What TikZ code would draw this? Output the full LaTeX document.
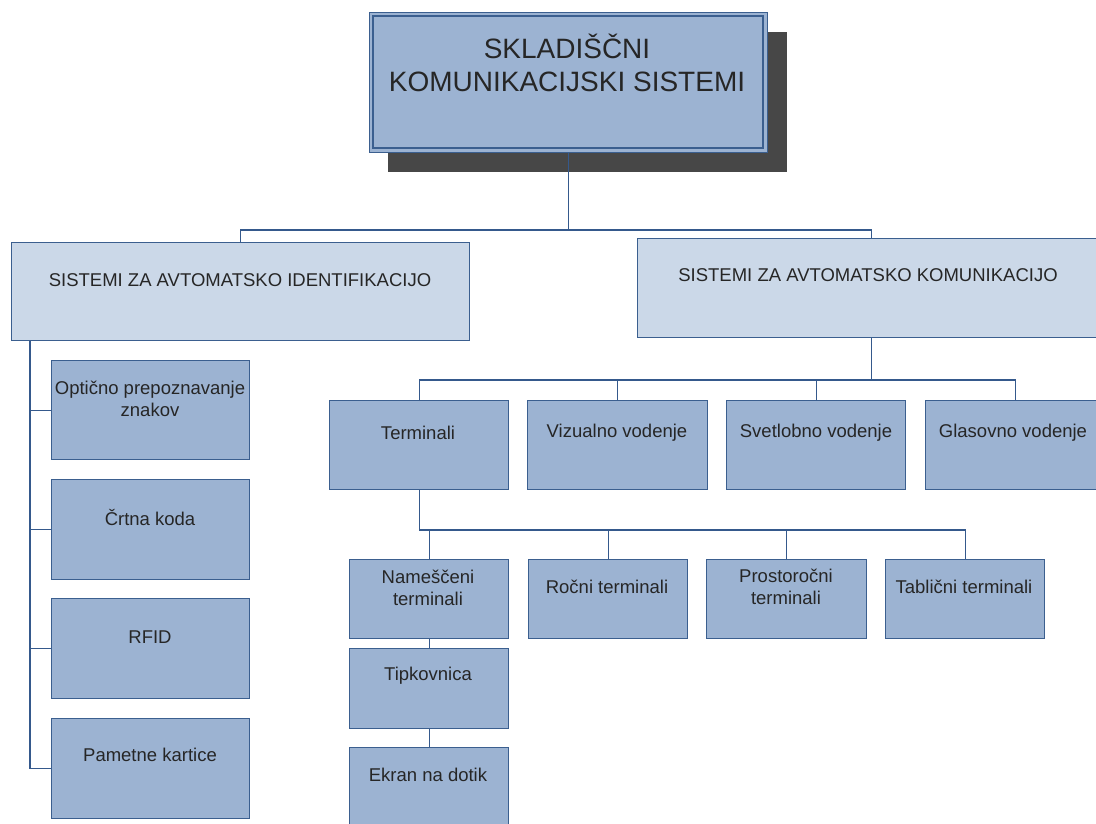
\documentclass[tikz,border=0pt]{standalone}
\usepackage{fontspec}
\setmainfont{Liberation Sans}
\usetikzlibrary{calc}
\definecolor{boxfill}{HTML}{9CB3D2}
\definecolor{lightfill}{HTML}{CBD8E8}
\definecolor{boxline}{HTML}{3B5F8F}
\definecolor{conn}{HTML}{35598C}
\definecolor{shadowgray}{HTML}{474747}
\definecolor{txtgray}{HTML}{262626}
\tikzset{
  dbox/.style={draw=boxline, fill=boxfill, line width=1.4pt, rectangle, inner sep=0pt, anchor=north west},
  lbox/.style={draw=boxline, fill=lightfill, line width=1.4pt, rectangle, inner sep=0pt, anchor=north west},
  txt/.style={text=txtgray, font=\fontsize{18.5}{22}\selectfont, align=center, inner sep=0pt},
  conline/.style={draw=conn, line width=1.4pt},
}
\begin{document}
\begin{tikzpicture}[x=1pt,y=-1pt]
\useasboundingbox (0,0) rectangle (1096,823);
% title
\fill[shadowgray] (388,32) rectangle (787,172);
\node[dbox, minimum width=398pt, minimum height=140pt] (title) at (369,12) {};
\draw[boxline, line width=1.2pt] (373,16) rectangle (763,148);
\node[txt, font=\fontsize{28}{33}\selectfont] (titletxt) at (567,63) {SKLADIŠČNI\\KOMUNIKACIJSKI SISTEMI};
% level 1
\node[lbox, minimum width=458pt, minimum height=98pt] (left) at (11,242) {};
\node[txt] (lefttxt) at (240,280) {SISTEMI ZA AVTOMATSKO IDENTIFIKACIJO};
\node[lbox, minimum width=467pt, minimum height=99pt] (right) at (637,238) {};
\node[txt] (righttxt) at (868,275) {SISTEMI ZA AVTOMATSKO KOMUNIKACIJO};
% left children
\node[dbox, minimum width=198pt, minimum height=99pt] (opt) at (51,360) {};
\node[txt] (opttxt) at (150,399) {Optično prepoznavanje\\znakov};
\node[dbox, minimum width=198pt, minimum height=100pt] (crt) at (51,479) {};
\node[txt] (crttxt) at (150,517) {Črtna koda};
\node[dbox, minimum width=198pt, minimum height=100pt] (rfid) at (51,598) {};
\node[txt] (rfidtxt) at (150,637) {RFID};
\node[dbox, minimum width=198pt, minimum height=100pt] (pam) at (51,718) {};
\node[txt] (pamtxt) at (150,755) {Pametne kartice};
% right children
\node[dbox, minimum width=179pt, minimum height=89pt] (term) at (329,400) {};
\node[txt] (termtxt) at (418,433) {Terminali};
\node[dbox, minimum width=180pt, minimum height=89pt] (viz) at (527,400) {};
\node[txt] (viztxt) at (617,433) {Vizualno vodenje};
\node[dbox, minimum width=179pt, minimum height=89pt] (svet) at (726,400) {};
\node[txt] (svettxt) at (816,433) {Svetlobno vodenje};
\node[dbox, minimum width=179pt, minimum height=89pt] (glas) at (925,400) {};
\node[txt] (glastxt) at (1013,433) {Glasovno vodenje};
% terminal children
\node[dbox, minimum width=159pt, minimum height=79pt] (nam) at (349,559) {};
\node[txt] (namtxt) at (428,588) {Nameščeni\\terminali};
\node[dbox, minimum width=159pt, minimum height=79pt] (roc) at (528,559) {};
\node[txt] (roctxt) at (607,587) {Ročni terminali};
\node[dbox, minimum width=160pt, minimum height=79pt] (pros) at (706,559) {};
\node[txt] (prostxt) at (786,587) {Prostoročni\\terminali};
\node[dbox, minimum width=159pt, minimum height=79pt] (tab) at (885,559) {};
\node[txt] (tabtxt) at (964,587) {Tablični terminali};
\node[dbox, minimum width=159pt, minimum height=80pt] (tip) at (349,648) {};
\node[txt] (tiptxt) at (428,676) {Tipkovnica};
\node[dbox, minimum width=159pt, minimum height=80pt] (ekr) at (349,747) {};
\node[txt] (ekrtxt) at (428,775) {Ekran na dotik};
% connectors
\draw[conline] (title.south) -- (title.south |- 0,230);
\draw[conline] (left.north) -- ++(0,-12) -| (right.north);
\coordinate (lt) at ($(left.south west)+(19,0)$);
\draw[conline] (lt) |- (pam.west);
\draw[conline] (opt.west) -- (opt.west -| lt);
\draw[conline] (crt.west) -- (crt.west -| lt);
\draw[conline] (rfid.west) -- (rfid.west -| lt);
\draw[conline] (right.south) -- (right.south |- 0,380);
\draw[conline] (term.north) -- ++(0,-20) -| (glas.north);
\draw[conline] (viz.north) -- ++(0,-20);
\draw[conline] (svet.north) -- ++(0,-20);
\draw[conline] (term.south) |- ($(tab.north)+(0,-29)$) -- (tab.north);
\draw[conline] (nam.north) -- ++(0,-29);
\draw[conline] (roc.north) -- ++(0,-29);
\draw[conline] (pros.north) -- ++(0,-29);
\draw[conline] (nam.south) -- (tip.north);
\draw[conline] (tip.south) -- (ekr.north);
\end{tikzpicture}
\end{document}
